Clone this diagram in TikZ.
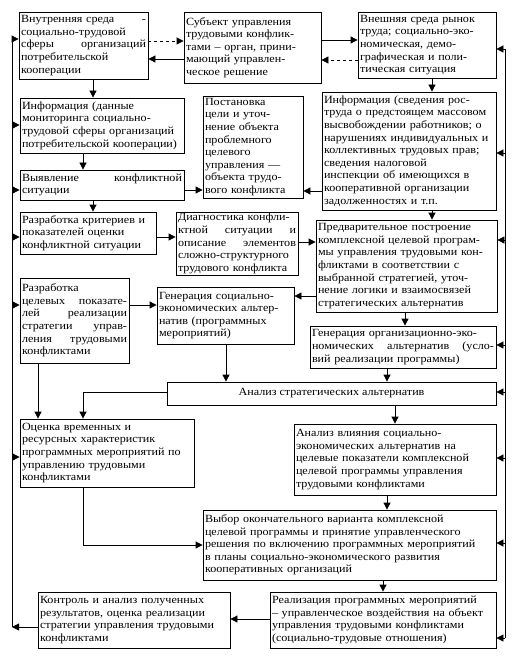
\documentclass[tikz,border=0pt]{standalone}
\usepackage{fontspec}
\setmainfont{Liberation Serif}[FakeStretch=1.1]
\usetikzlibrary{arrows.meta}
\tikzset{
	blok/.style={draw, line width=0.8pt, align=left, inner xsep=2pt, inner ysep=1pt,
		font=\fontsize{11}{12.6}\selectfont},
	strelka/.style={-{Triangle[length=7pt,width=7pt]}, line width=0.8pt},
	liniya/.style={line width=0.8pt}
}
\begin{document}
\begin{tikzpicture}[x=1pt, y=-1pt]
	\useasboundingbox (0,0) rectangle (515,663);
	% верхний ряд
	\node[blok, text width=125, minimum height=67] (A) at (83.5,45.5) {Внутренняя среда\hfill-\\ социально-трудовой\\ сферы\hfill организаций\\ потребительской\\ кооперации};
	\node[blok, text width=133, minimum height=71] (B) at (252.5,47.5) {Субъект управления\\ трудовыми конфлик-\\ тами – орган, прини-\\ мающий управлен-\\ ческое решение};
	\node[blok, text width=134, minimum height=66] (C) at (427,45) {Внешняя среда рынок\\ труда; социально-эко-\\ номическая, демо-\\ графическая и поли-\\ тическая ситуация};
	% информация и постановка цели
	\node[blok, text width=160, minimum height=55] (inf1) at (102,125.5) {Информация (данные\\ мониторинга социально-\\ трудовой сферы организаций\\ потребительской кооперации)};
	\node[blok, text width=96, minimum height=102] (post) at (253,147) {Постановка\\ цели и уточ-\\ нение объекта\\ проблемного\\ целевого\\ управления —\\ объекта трудо-\\ вого конфликта};
	\node[blok, text width=170, minimum height=118] (inf2) at (409,151) {Информация (сведения рос-\\ труда о предстоящем массовом\\ высвобождении работников; о\\ нарушениях индивидуальных и\\ коллективных трудовых прав;\\ сведения налоговой\\ инспекции об имеющихся в\\ кооперативной организации\\ задолженностях и т.п.};
	\node[blok, text width=160, minimum height=30] (vyyav) at (102,185) {Выявление\hfill конфликтной\\ ситуации};
	% критерии, диагностика, построение программы
	\node[blok, text width=132, minimum height=42] (krit) at (88,233) {Разработка критериев и\\ показателей оценки\\ конфликтной ситуации};
	\node[blok, text width=118, minimum height=63] (diag) at (237,243.5) {Диагностика конфли-\\ ктной\hfill ситуации\hfill и\\ описание\hfill элементов\\ сложно-структурного\\ трудового конфликта};
	\node[blok, text width=177, minimum height=92] (pred) at (406.5,266) {Предварительное построение\\ комплексной целевой програм-\\ мы управления трудовыми кон-\\ фликтами в соответствии с\\ выбранной стратегией, уточ-\\ нение логики и взаимосвязей\\ стратегических альтернатив};
	% генерация альтернатив
	\node[blok, text width=105, minimum height=85] (celpok) at (74.5,320.5) {Разработка\\ целевых\hfill показате-\\ лей\hfill реализации\\ стратегии\hfill управ-\\ ления\hfill трудовыми\\ конфликтами};
	\node[blok, text width=133, minimum height=57] (gensoc) at (225.5,315.5) {Генерация социально-\\ экономических альтер-\\ натив (программных\\ мероприятий)};
	\node[blok, text width=182, minimum height=42] (genorg) at (403,347) {Генерация организационно-эко-\\ номических\hfill альтернатив\hfill (усло-\\ вий реализации программы)};
	\node[blok, align=center, minimum width=329, minimum height=23] (analiz) at (331.5,393.5) {Анализ стратегических альтернатив};
	% оценка и выбор
	\node[blok, text width=170, minimum height=68] (ocenka) at (107,453) {Оценка временных и\\ ресурсных характеристик\\ программных мероприятий по\\ управлению трудовыми\\ конфликтами};
	\node[blok, text width=198, minimum height=71] (vliyan) at (395,459.5) {Анализ влияния социально-\\ экономических альтернатив на\\ целевые показатели комплексной\\ целевой программы управления\\ трудовыми конфликтами};
	\node[blok, text width=289, minimum height=70] (vybor) at (349.5,545) {Выбор окончательного варианта комплексной\\ целевой программы и принятие управленческого\\ решения по включению программных мероприятий\\ в планы социально-экономического развития\\ кооперативных организаций};
	\node[blok, text width=222, minimum height=56] (realiz) at (383,620) {Реализация программных мероприятий\\ – управленческое воздействия на объект\\ управления трудовыми конфликтами\\ (социально-трудовые отношения)};
	\node[blok, text width=188, minimum height=56] (kontrol) at (134,620) {Контроль и анализ полученных\\ результатов, оценка реализации\\ стратегии управления трудовыми\\ конфликтами};
	% связи верхнего ряда
	\draw[strelka, dashed] (A.east |- 0,41) -- (B.west |- 0,41);
	\draw[strelka] (B.west |- 0,59) -- (A.east |- 0,59);
	\draw[strelka] (B.east |- 0,40) -- (C.west |- 0,40);
	\draw[strelka, dashed] (C.west |- 0,60) -- (B.east |- 0,60);
	% стрелки вниз
	\draw[strelka] (A.south -| 93,0) -- (inf1.north -| 93,0);
	\draw[strelka] (inf1.south -| 83,0) -- (vyyav.north -| 83,0);
	\draw[strelka] (vyyav.south -| 93,0) -- (krit.north -| 93,0);
	\draw[strelka] (C.south -| 432,0) -- (inf2.north -| 432,0);
	\draw[strelka] (inf2.south -| 432,0) -- (pred.north -| 432,0);
	\draw[strelka] (pred.south -| 405,0) -- (genorg.north -| 405,0);
	\draw[strelka] (gensoc.south -| 226,0) -- (analiz.north -| 226,0);
	\draw[strelka] (genorg.south -| 387,0) -- (analiz.north -| 387,0);
	\draw[strelka] (celpok.south -| 38,0) -- (ocenka.north -| 38,0);
	\draw[strelka] (analiz.south -| 395,0) -- (vliyan.north -| 395,0);
	\draw[strelka] (vliyan.south -| 387,0) -- (vybor.north -| 387,0);
	\draw[strelka] (vybor.south -| 383,0) -- (realiz.north -| 383,0);
	% стрелки вбок
	\draw[strelka] (vyyav.east |- 0,190) -- (post.west |- 0,190);
	\draw[strelka] (inf2.west |- 0,191) -- (post.east |- 0,191);
	\draw[strelka] (krit.east |- 0,237) -- (diag.west |- 0,237);
	\draw[strelka] (diag.east |- 0,242) -- (pred.west |- 0,242);
	\draw[strelka] (pred.west |- 0,296) -- (gensoc.east |- 0,296);
	\draw[strelka] (celpok.east |- 0,305) -- (gensoc.west |- 0,305);
	\draw[strelka] (analiz.west |- 0,392) -| (ocenka.north -| 83,0);
	\draw[strelka] (ocenka.south -| 83,0) |- (vybor.west |- 0,545);
	\draw[strelka] (realiz.west |- 0,619) -- (kontrol.east |- 0,619);
	% обратные связи
	\coordinate (levo) at (12,0);
	\coordinate (pravo) at (505,0);
	\draw[strelka] (kontrol.west |- 0,627) -- (levo |- 0,627);
	\draw[liniya] (levo |- 0,627) -- (levo |- 0,39);
	\foreach \n/\y in {A/39, inf1/125, vyyav/190, krit/237, celpok/305, ocenka/457} {
		\draw[strelka] (levo |- 0,\y) -- (\n.west |- 0,\y);
	}
	\draw[liniya] (pravo |- 0,49) -- (pravo |- 0,638);
	\foreach \n/\y in {C/49, inf2/153, pred/240, genorg/345, analiz/392, vliyan/458, vybor/543, realiz/638} {
		\draw[strelka] (pravo |- 0,\y) -- (\n.east |- 0,\y);
	}
\end{tikzpicture}
\end{document}
